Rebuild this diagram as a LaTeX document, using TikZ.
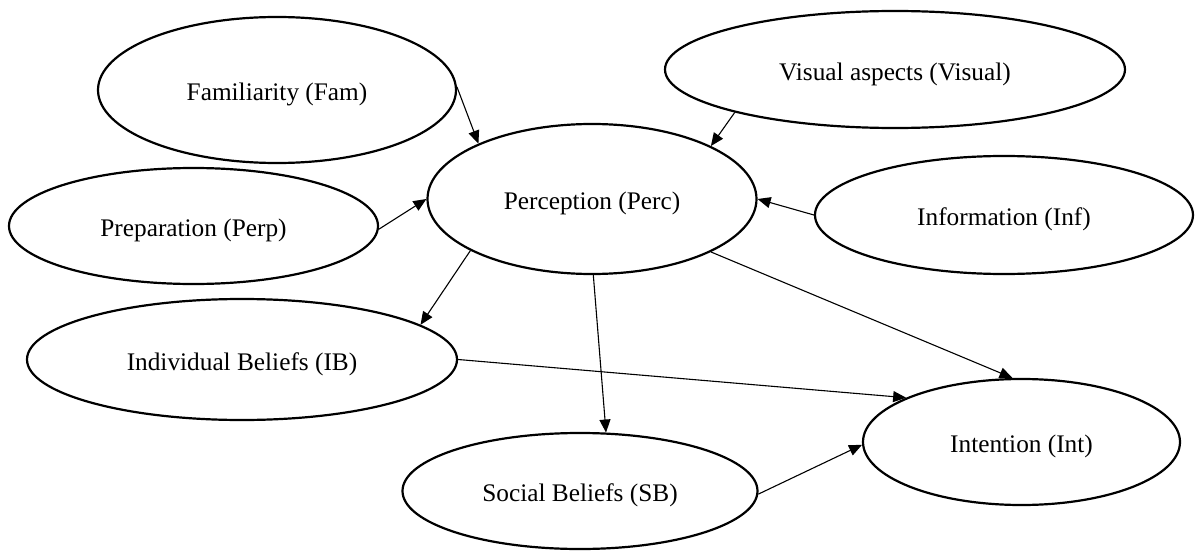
\documentclass[tikz,border=0pt]{standalone}
\usepackage{fontspec}
\setmainfont{Liberation Serif}
\usetikzlibrary{shapes.geometric,arrows.meta}
\tikzset{
  oval/.style={ellipse, draw=black, line width=2.2pt, inner sep=0pt, fill=white,
    text height=21.5pt, text depth=0pt,
    font=\fontsize{25.3}{29}\selectfont},
  link/.style={line width=1.1pt, -{Triangle[length=13pt,width=11pt]}}
}
\begin{document}
\begin{tikzpicture}[x=1pt,y=-1pt]
\useasboundingbox (0,0) rectangle (1195,551);
\node[oval, minimum width=358pt, minimum height=146pt] (fam) at (277,90) {Familiarity (Fam)};
\node[oval, minimum width=369pt, minimum height=116pt] (perp) at (193.5,226) {Preparation (Perp)};
\node[oval, minimum width=329pt, minimum height=150pt] (perc) at (592,199) {Perception (Perc)};
\node[oval, minimum width=460pt, minimum height=117pt] (vis) at (895,69.5) {Visual aspects (Visual)};
\node[oval, minimum width=378pt, minimum height=118pt] (inf) at (1004,215) {Information (Inf)};
\node[oval, minimum width=430pt, minimum height=121pt] (ib) at (242,359.5) {Individual Beliefs (IB)};
\node[oval, minimum width=355pt, minimum height=116pt] (sb) at (580,491) {Social Beliefs (SB)};
\node[oval, minimum width=317pt, minimum height=126pt] (int) at (1021.5,442) {Intention (Int)};

\draw[link] (fam.1) -- (perc.154.6);
\draw[link] (perp.-1) -- (perc.180);
\draw[link] (vis.195) -- (perc.24.6);
\draw[link] (inf.180.5) -- (perc.0);
\draw[link] (perc.203) -- (ib.11.3);
\draw[link] (perc.-89.3) -- (sb.66.7);
\draw[link] (perc.-24.6) -- (int.98.4);
\draw[link] (ib.0) -- (int.159.8);
\draw[link] (sb.-1.5) -- (int.181);
\end{tikzpicture}
\end{document}
